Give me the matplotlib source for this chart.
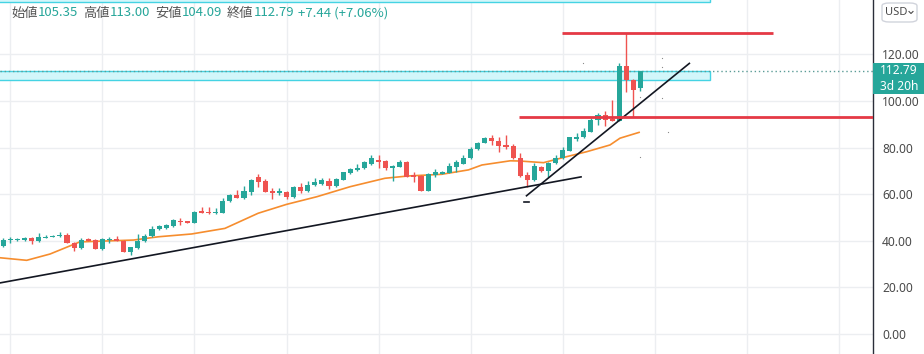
import matplotlib
matplotlib.use("Agg")
import matplotlib.pyplot as plt
from matplotlib.patches import Rectangle, FancyBboxPatch
import numpy as np

plt.rcParams['font.family'] = ['Noto Sans CJK JP', 'DejaVu Sans']

W, H = 924, 354

# weekly candles (index 0 = leftmost bar)
opens = [37.9, 40.2, 40.3, 40.5, 41.2, 39.7, 41.3, 41.7, 42.0, 42.5,
         39.1, 36.9, 40.7, 40.2, 36.5, 40.3, 40.6, 40.0, 35.0, 36.8,
         39.9, 42.0, 45.2, 45.6, 46.3, 48.6, 48.2, 47.7, 52.8, 52.4,
         51.7, 52.0, 57.2, 59.5, 58.3, 61.0, 67.2, 65.7, 61.3, 60.5,
         61.0, 58.8, 63.1, 61.3, 63.8, 64.5, 65.7, 63.5, 66.2, 69.1,
         70.3, 71.0, 73.1, 74.8, 74.4, 71.0, 71.7, 73.7, 68.1, 67.7,
         61.3, 68.1, 68.8, 69.1, 71.7, 73.1, 75.3, 79.2, 82.0, 83.9,
         82.9, 81.0, 80.6, 75.3, 68.1, 66.2, 71.7, 70.0, 73.4, 75.3,
         78.6, 83.6, 84.3, 86.8, 91.8, 93.8, 92.2, 91.5, 114.9, 109.1,
         105.35]
highs = [41.0, 41.5, 41.2, 41.8, 41.6, 43.4, 42.4, 42.5, 43.7, 43.5,
         39.5, 41.3, 41.3, 40.6, 41.0, 41.6, 42.0, 40.3, 37.5, 43.0,
         42.8, 46.3, 46.6, 47.3, 49.5, 49.6, 48.6, 52.8, 54.5, 54.3,
         54.0, 58.5, 60.0, 61.9, 63.4, 66.7, 68.8, 66.5, 62.8, 62.5,
         61.3, 63.5, 64.7, 65.6, 67.0, 67.0, 67.0, 67.0, 69.6, 71.0,
         72.8, 74.2, 76.7, 76.7, 74.8, 72.4, 74.5, 74.2, 69.6, 68.0,
         69.0, 70.6, 70.0, 73.2, 74.5, 76.7, 80.3, 82.5, 84.5, 85.3,
         84.6, 85.3, 81.5, 77.5, 69.6, 73.3, 72.2, 73.6, 76.7, 80.3,
         84.6, 86.1, 88.2, 92.5, 94.7, 95.8, 100.4, 116.2, 129.2, 109.5,
         113.00]
lows = [37.5, 39.1, 39.8, 39.8, 38.7, 39.5, 41.0, 41.4, 41.8, 39.0,
        35.8, 36.5, 39.8, 36.3, 36.2, 39.0, 39.8, 35.0, 33.9, 36.5,
        39.6, 41.8, 44.6, 45.2, 46.0, 46.6, 47.5, 47.4, 51.8, 51.5,
        51.5, 51.7, 56.8, 58.2, 58.0, 59.5, 63.1, 60.8, 58.0, 59.6,
        57.8, 58.5, 60.6, 61.0, 63.5, 63.8, 62.0, 63.2, 66.0, 68.8,
        69.8, 70.7, 72.4, 71.0, 70.5, 65.5, 71.5, 67.2, 65.2, 61.3,
        61.3, 67.2, 68.5, 68.9, 69.6, 72.9, 75.0, 79.0, 81.8, 81.0,
        78.2, 79.5, 75.0, 67.4, 63.1, 65.8, 69.5, 67.4, 73.0, 75.0,
        78.3, 82.9, 84.0, 86.5, 89.5, 89.1, 91.2, 91.2, 104.0, 93.3,
        104.09]
closes = [40.3, 40.5, 40.6, 41.0, 40.0, 41.4, 41.7, 42.0, 42.5, 39.1,
          36.8, 40.4, 40.0, 36.5, 40.7, 40.6, 40.0, 35.3, 37.1, 40.1,
          42.2, 45.2, 46.2, 46.8, 48.8, 48.0, 47.8, 52.5, 52.0, 51.7,
          52.4, 57.2, 59.5, 58.5, 61.2, 66.0, 65.2, 61.0, 60.6, 61.2,
          58.9, 63.1, 61.3, 63.8, 65.2, 66.0, 63.5, 66.7, 69.3, 70.7,
          71.4, 73.8, 75.3, 73.9, 71.2, 72.0, 73.7, 67.4, 67.4, 61.3,
          68.5, 69.5, 69.5, 72.0, 73.8, 75.3, 79.2, 82.0, 83.9, 82.9,
          80.7, 80.3, 75.3, 67.8, 66.0, 72.1, 70.0, 73.4, 75.3, 78.9,
          84.3, 84.3, 87.2, 91.8, 94.0, 91.8, 91.5, 115.1, 108.8, 104.7,
          112.79]

# moving average (orange), sampled along the curve: bar index -> price
ma_idx = [-0.47, 3.3, 6.6, 10.8, 18.4, 21.9, 26.6, 31.3, 36.0, 40.0, 44.3,
          49.0, 53.9, 57.2, 61.9, 65.7, 67.6, 71.6, 73.0, 76.3, 79.6, 82.4,
          85.7, 87.1, 89.8]
ma_val = [32.7, 31.6, 34.3, 39.5, 40.3, 41.7, 42.9, 45.3, 51.8, 55.6, 58.9,
          63.2, 66.8, 67.8, 68.5, 70.4, 72.5, 74.3, 74.2, 73.5, 76.1, 78.2,
          81.1, 84.0, 86.5]

# drawings
trend1 = ([-0.47, 81.6], [21.9, 67.4])
trend2 = ([73.9, 96.9], [59.3, 116.1])
red_top = (78.9, 108.7, 129.1)
red_low = (72.8, 123.0, 93.2)
band = (109.1, 113.0)
marks_idx = [81.9, 93.0, 93.0, 93.0, 93.9, 90.0, 90.0]
marks_val = [116.1, 118.5, 114.7, 101.4, 86.8, 76.1, 101.5]

yticks = [0, 20, 40, 60, 80, 100, 120]
xgrid = [1, 14, 27, 40, 53, 66, 79, 92, 105, 118]

header = [("始値", "105.35"), ("高値", "113.00"), ("安値", "104.09"), ("終値", "112.79")]
change = "+7.44 (+7.06%)"

UP = "#26a69a"
DOWN = "#ef5350"


def px(x, y):
    return x / W, 1 - y / H


def main():
    fig = plt.figure(figsize=(W / 100, H / 100), dpi=100)
    ax_right = 872.5
    ax = fig.add_axes([0, 0, ax_right / W, 1])
    x0, step = 3.3, 7.08
    ax.set_xlim(-x0 / step, (ax_right - x0) / step)
    ax.set_ylim(-8.6, 143.3)

    for s in ["top", "left", "bottom"]:
        ax.spines[s].set_visible(False)
    ax.spines["right"].set_color("#2a2e39")
    ax.spines["right"].set_linewidth(1)

    ax.set_xticks(xgrid)
    ax.set_xticklabels([])
    ax.tick_params(axis="x", length=0)
    ax.yaxis.tick_right()
    ax.set_yticks(yticks)
    ax.set_yticklabels([f"{v:.2f}" for v in yticks], fontsize=8.6, color="#4a4a4a",
                       family=["Noto Sans", "DejaVu Sans"])
    ax.tick_params(axis="y", length=0, pad=7)
    ax.grid(True, color="#eceef1", lw=1)
    ax.set_axisbelow(True)

    # top rectangle (mostly off-screen) and cyan zone
    ax.add_patch(Rectangle((-1, 142.3), 100.8, 10, facecolor="#d2f6fa",
                           edgecolor="#45d3e3", lw=1, zorder=1))
    ax.add_patch(Rectangle((-1, band[0]), 100.8, band[1] - band[0], facecolor="#d2f6fa",
                           edgecolor="#45d3e3", lw=1, zorder=1))
    ax.axhline(closes[-1], color="#5b9c97", lw=1, ls=(0, (1, 2)), zorder=2)

    ax.plot(ma_idx, ma_val, color="#f68d2e", lw=1.2, zorder=3)

    idx = np.arange(len(closes))
    o = np.array(opens)
    c = np.array(closes)
    colors = [UP if cc >= oo else DOWN for oo, cc in zip(o, c)]
    ax.vlines(idx, lows, highs, colors=colors, lw=1, zorder=4)
    bottoms = np.minimum(o, c)
    heights = np.maximum(np.abs(c - o), 0.5)
    ax.bar(idx, heights, bottom=bottoms, width=0.72, color=colors, lw=0, zorder=5)

    ax.plot(*trend1, color="#131722", lw=1.2, zorder=6)
    ax.plot(*trend2, color="#131722", lw=1.2, zorder=6)
    ax.plot([73.6, 74.3], [56.8, 56.8], color="#131722", lw=1.2, zorder=6)
    ax.hlines(red_top[2], red_top[0], red_top[1], color="#e53945", lw=2, zorder=6)
    ax.hlines(red_low[2], red_low[0], red_low[1], color="#e53945", lw=2, zorder=6)
    ax.scatter(marks_idx, marks_val, s=0.8, color="#888888", lw=0, zorder=6)

    # last price label
    fig.patches.append(Rectangle(px(ax_right, 94.3), (W - ax_right) / W, 31.6 / H,
                                 transform=fig.transFigure, facecolor=UP, edgecolor="none"))
    fig.text(*px(880, 71), f"{closes[-1]:.2f}", color="white", fontsize=8.6,
             fontweight="bold", va="center", ha="left", family=["Noto Sans", "DejaVu Sans"])
    fig.text(*px(880, 86), "3d 20h", color="white", fontsize=8.6,
             va="center", ha="left", family=["Noto Sans", "DejaVu Sans"])

    # currency button
    fig.patches.append(FancyBboxPatch(px(882, 22), 35 / W, 19 / H,
                                      boxstyle="round,pad=0,rounding_size=0.008",
                                      transform=fig.transFigure, facecolor="white",
                                      edgecolor="#d1d4dc", lw=1))
    fig.text(*px(885, 12.5), "USD", color="#4a4a4a", fontsize=8,
             va="center", ha="left", family=["Noto Sans", "DejaVu Sans"])
    fig.lines.append(plt.Line2D([909 / W, 911 / W, 913 / W],
                                [1 - 11.5 / H, 1 - 13.5 / H, 1 - 11.5 / H],
                                transform=fig.transFigure, color="#4a4a4a", lw=0.8))

    # OHLC header
    xs_lab = [11, 83.3, 155, 226.7]
    xs_num = [37.7, 110, 181.7, 254]
    for (lab, num), xl, xn in zip(header, xs_lab, xs_num):
        fig.text(*px(xl, 13), lab, color="#555555", fontsize=9.5, va="center", ha="left")
        fig.text(*px(xn, 13), num, color=UP, fontsize=9.5, va="center", ha="left")
    fig.text(*px(298.3, 13), change, color=UP, fontsize=9.5, va="center", ha="left")

    fig.savefig("out.png", dpi=100, facecolor="white")
    plt.close(fig)


if __name__ == "__main__":
    main()
